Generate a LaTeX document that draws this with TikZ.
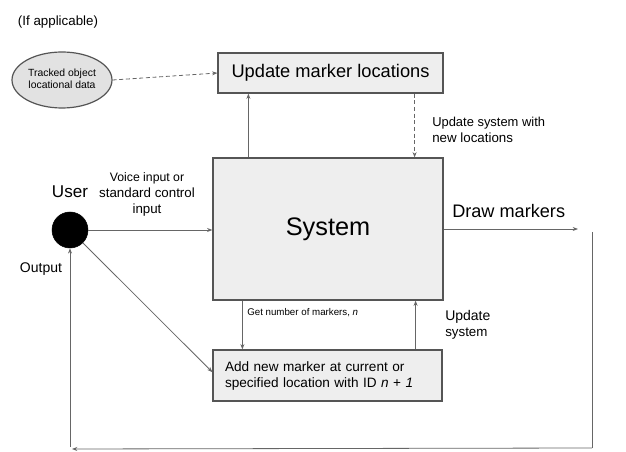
\documentclass[tikz,border=0pt]{standalone}
\usepackage{fontspec}
\setmainfont{Liberation Sans}
\usetikzlibrary{arrows.meta,shapes.geometric}
\definecolor{boxfill}{HTML}{EEEEEE}
\definecolor{linec}{HTML}{666666}
\definecolor{edgec}{HTML}{555555}
\newcommand{\fs}[2]{\fontsize{#1}{#2}\selectfont}
\begin{document}
\begin{tikzpicture}[x=0.75pt,y=-0.75pt,
  box/.style={draw=edgec, fill=boxfill, line width=0.9pt, inner sep=0pt},
  plain/.style={draw=linec, line width=0.6pt},
  conn/.style={plain, -{Stealth[length=4pt,width=3pt]}},
  dconn/.style={conn, dash pattern=on 3pt off 2pt},
  lbl/.style={inner sep=0pt, text=black}]
\useasboundingbox (0,0) rectangle (626,452);

% nodes
\node[box, ellipse, fill=boxfill!95!black, minimum width=75pt, minimum height=42pt] (ell) at (62,80)
  {\fs{7.8}{9.6}\begin{tabular}{@{}c@{}}Tracked object\\locational data\end{tabular}};
\node[box, minimum width=168.75pt, minimum height=30pt] (upd) at (330.5,73)
  {\fs{13.7}{16}Update marker locations};
\node[box, minimum width=172.5pt, minimum height=106.5pt] (sys) at (328,229)
  {\fs{19}{22}System};
\node[box, minimum width=171.75pt, minimum height=38.25pt, text width=153.75pt, align=left] (add) at (327.5,375.5)
  {\fs{10.2}{14.2}Add new marker at current or\\specified location with ID \textit{n} + \textit{1}};
\node[circle, fill=black, draw=black, minimum size=27pt, inner sep=0pt] (user) at (70,230) {};

% labels
\node[lbl] (ifapp) at (58,22) {\fs{10}{12}(If applicable)};
\node[lbl, anchor=west, align=left] (usn) at (432,130) {\fs{9.7}{12}Update system with\\new locations};
\node[lbl, align=center] (voice) at (147,194) {\fs{9.2}{10.9}Voice input or\\standard control\\input};
\node[lbl] (userl) at (70,192) {\fs{12.8}{15}User};
\node[lbl] (outl) at (41,269) {\fs{10.5}{12}Output};
\node[lbl, anchor=west] (drawl) at (452,211) {\fs{13.6}{16}Draw markers};
\node[lbl, anchor=west] (getn) at (247,313) {\fs{7.3}{9}Get number of markers, \textit{n}};
\node[lbl, anchor=west, align=left] (updsys) at (445,325) {\fs{10.5}{12.75}Update\\system};

% coordinates
\coordinate (dm) at (578,229);
\coordinate (r1) at (592,232);
\coordinate (r2) at (592,448);
\coordinate (r3) at (72,449);
\coordinate (r4) at (70,447);

% connectors
\draw[dconn] (ell.east) -- (upd.west);
\draw[conn] ([xshift=27pt]sys.north west) -- ([xshift=27pt]sys.north west |- upd.south);
\draw[dconn] ([xshift=-21.75pt]upd.south east) -- ([xshift=-21.75pt]upd.south east |- sys.north);
\draw[conn] (user.east) -- (user.east -| sys.west);
\draw[conn] (user.south east) -- ([yshift=2.5pt]add.west);
\draw[conn] ([xshift=22.5pt]sys.south west) -- ([xshift=22.5pt]sys.south west |- add.north);
\draw[conn] ([xshift=-20.25pt]add.north east) -- ([xshift=-20.25pt]add.north east |- sys.south);
\draw[conn] (sys.east |- dm) -- (dm);
\draw[plain] (r1) -- (r2);
\draw[conn] (r2) -- (r3);
\draw[conn] (r4) -- (user.south);
\end{tikzpicture}
\end{document}
